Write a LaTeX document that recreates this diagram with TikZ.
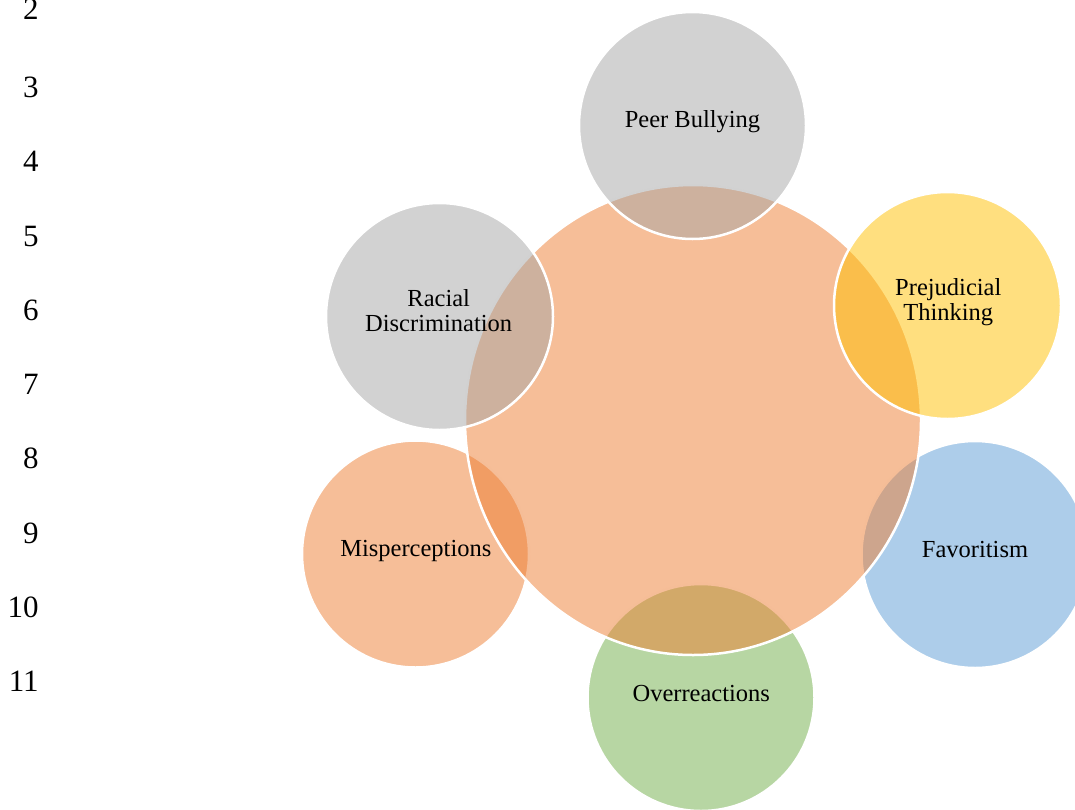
\documentclass[tikz,border=0pt]{standalone}
\usepackage{fontspec}
\setmainfont{Liberation Serif}
\usetikzlibrary{shapes.geometric}
\definecolor{offgray}{HTML}{A5A5A5}
\definecolor{offorange}{HTML}{ED7D31}
\definecolor{offyellow}{HTML}{FFC000}
\definecolor{offblue}{HTML}{5B9BD5}
\definecolor{offgreen}{HTML}{70AD47}
\begin{document}
\begin{tikzpicture}[x=0.5pt,y=-0.5pt,
  bubble/.style={circle, minimum size=113.5pt, inner sep=0pt, draw=white, line width=1.25pt, fill opacity=0.5, draw opacity=1},
  hub/.style={ellipse, minimum width=228pt, minimum height=235pt, inner sep=0pt, draw=white, line width=1.25pt, fill=offorange, fill opacity=0.5, draw opacity=1},
  lbl/.style={font=\fontsize{12.25}{12.5}\selectfont, text=black, text opacity=1, fill opacity=1, align=center, anchor=base, inner sep=0pt},
  num/.style={font=\fontsize{15.5}{18}\selectfont, text=black, anchor=base east, inner sep=0pt}]
\useasboundingbox (0,0) rectangle (1075,809);
\clip (0,0) rectangle (1075,809);

% line numbers
\node[num] (n2) at (39,19) {2};
\node[num] (n3) at (39,97.5) {3};
\node[num] (n4) at (39,171.5) {4};
\node[num] (n5) at (39,246) {5};
\node[num] (n6) at (39,320) {6};
\node[num] (n7) at (39,394) {7};
\node[num] (n8) at (39,468.5) {8};
\node[num] (n9) at (39,543) {9};
\node[num] (n10) at (39,617) {10};
\node[num] (n11) at (39,691) {11};

% circles (drawing order matters)
\node[bubble, fill=offorange] (mis) at (415.5,554) {};
\node[bubble, fill=offgreen] (over) at (701,697.5) {};
\node[bubble, fill=offblue] (fav) at (975,554.5) {};
\node[hub] (hub) at (693,420) {};
\node[bubble, fill=offgray] (peer) at (692.5,125.5) {};
\node[bubble, fill=offyellow] (prej) at (947.5,305.5) {};
\node[bubble, fill=offgray] (race) at (439.5,316.5) {};

% labels
\node[lbl] (tmis) at (415.8,556.7) {Misperceptions};
\node[lbl] (tover) at (701.3,701) {Overreactions};
\node[lbl] (tfav) at (975,557.7) {Favoritism};
\node[lbl] (tpeer) at (692.5,127.7) {Peer Bullying};
\node[lbl] (tprej) at (948.3,320) {Prejudicial\\Thinking};
\node[lbl] (trace) at (438.7,331.7) {Racial\\Discrimination};
\end{tikzpicture}
\end{document}
